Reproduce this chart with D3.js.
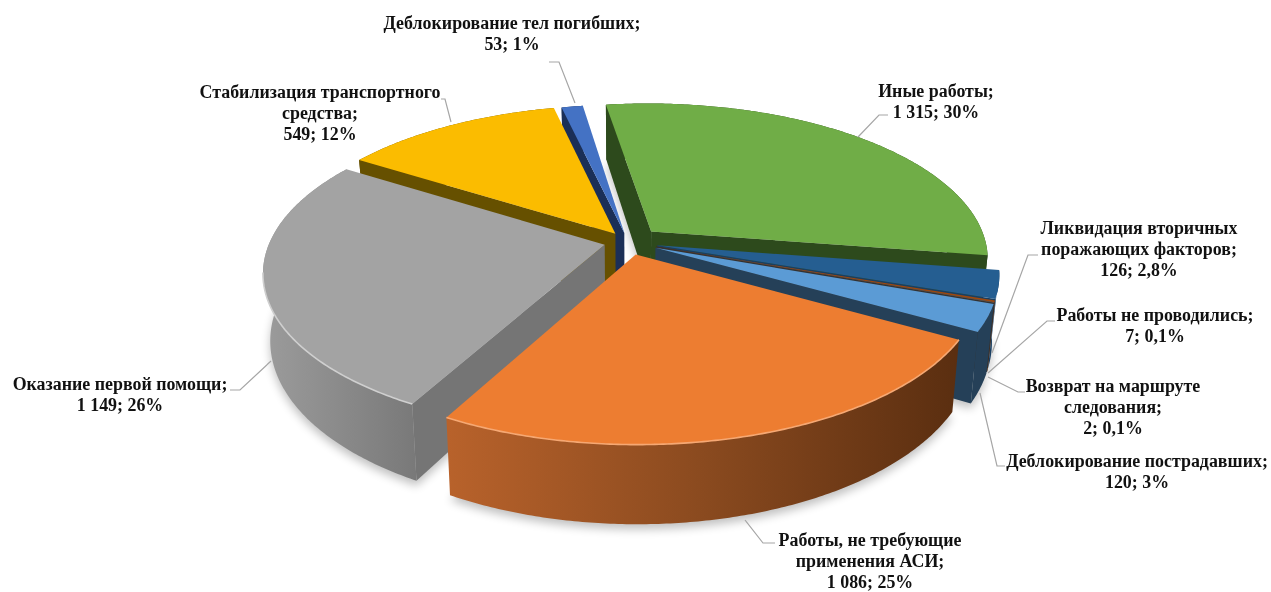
<!DOCTYPE html>
<html>
<head>
<meta charset="utf-8">
<script src="https://d3js.org/d3.v7.min.js"></script>
<style>
  html, body { margin: 0; padding: 0; background: #fff; }
  svg { display: block; }
  text { font-family: "Liberation Serif", serif; font-weight: bold; font-size: 17.9px; fill: #111; }
</style>
</head>
<body>
<script>
// chart data, clockwise from the green slice
const categories = [
    ["Иные работы;"],
    ["Ликвидация вторичных", "поражающих факторов;"],
    ["Работы не проводились;"],
    ["Возврат на маршруте", "следования;"],
    ["Деблокирование пострадавших;"],
    ["Работы, не требующие", "применения АСИ;"],
    ["Оказание первой помощи;"],
    ["Стабилизация транспортного", "средства;"],
    ["Деблокирование тел погибших;"]
];
const values = [1315, 126, 7, 2, 120, 1086, 1149, 549, 53];
const valueLabels = ["1 315", "126", "7", "2", "120", "1 086", "1 149", "549", "53"];
const percentLabels = ["30%", "2,8%", "0,1%", "0,1%", "3%", "25%", "26%", "12%", "1%"];

// styling per slice
const topColors  = ["#70AD47", "#255E91", "#9E480E", "#636363", "#5B9BD5", "#ED7D31", "#A3A3A3", "#FBBC00", "#4472C4"];
const wallColors = ["#2D4A1C", "#1A3F62", "#5A2A08", "#333333", "#254058", "#5E3112", "#757575", "#665000", "#1B2F57"];
const explode    = [33, 30, 30, 30, 30, 28, 24, 22, 20];
const drawOrder  = [0, 8, 7, 1, 2, 3, 4, 6, 5];

// where each label and leader goes on the page
const labelCenter = [[936, 97], [1139, 234], [1155, 321], [1113, 392], [1137, 467], [870, 546], [120, 390], [320, 98], [512, 29]];
const lineHeight = 21;
const leaders = [
    [[888, 115], [879, 115], [858, 137]],
    [[1038, 255], [1028, 255], [992, 353]],
    [[1055, 321], [1047, 321], [988, 373]],
    [[1025, 392], [1018, 392], [988, 377]],
    [[1005, 466], [997, 466], [980, 393]],
    [[775, 543], [763, 543], [745, 520]],
    [[230, 390], [240, 390], [271, 361]],
    [[441, 99], [445, 99], [451, 122]],
    [[549, 62], [559, 62], [575, 103]]
];

const width = 1271, height = 592;
const cx = 628, cy = 242;
const R = 335, tilt = 0.457, camera = R / 0.17, depth = 65;
const startAngle = -8.5 * Math.PI / 180;

// ground plane -> screen, z is how far below the top surface
function project(X, Y, z) {
    let f = 1 / (1 - Y / camera);
    let shrink = 1 - 0.02 * z / depth;
    return [cx + f * X * shrink, cy + tilt * f * Y + f * z];
}

const svg = d3.select("body").append("svg")
    .attr("width", width)
    .attr("height", height);

const defs = svg.append("defs");
defs.append("filter").attr("id", "soft")
    .attr("x", "-10%").attr("y", "-10%").attr("width", "120%").attr("height", "120%")
    .append("feGaussianBlur").attr("stdDeviation", 5);
defs.append("filter").attr("id", "rim")
    .append("feGaussianBlur").attr("stdDeviation", 0.7);

function wallGradient(id, x1, x2, stops) {
    let g = defs.append("linearGradient").attr("id", id)
        .attr("gradientUnits", "userSpaceOnUse")
        .attr("x1", x1).attr("x2", x2).attr("y1", 0).attr("y2", 0);
    stops.forEach((c, i) => g.append("stop").attr("offset", i / (stops.length - 1)).attr("stop-color", c));
}
wallGradient("wall5", 448, 960, ["#B8622B", "#8A4A1F", "#5A2E10"]);
wallGradient("wall6", 262, 420, ["#9C9C9C", "#8A8A8A", "#787878"]);

const pie = d3.pie().sort(null).startAngle(startAngle).endAngle(startAngle + 2 * Math.PI);
const slices = pie(values);
const lineGen = d3.line();

function ringPoints(s, z) {
    let mid = (s.startAngle + s.endAngle) / 2;
    let e = explode[s.index];
    let ox = e * Math.sin(mid), oy = -e * Math.cos(mid);
    let n = Math.max(2, Math.ceil((s.endAngle - s.startAngle) / 0.01));
    return d3.range(n + 1).map(i => {
        let a = s.startAngle + (s.endAngle - s.startAngle) * i / n;
        return project(ox + R * Math.sin(a), oy - R * Math.cos(a), z);
    });
}

function apexPoint(s, z) {
    let mid = (s.startAngle + s.endAngle) / 2;
    let e = explode[s.index];
    return project(e * Math.sin(mid), -e * Math.cos(mid), z);
}

// positive when the wall turns its face to the viewer
function area(pts) {
    return d3.polygonArea(pts);
}

const shadowLayer = svg.append("g").attr("filter", "url(#soft)").attr("opacity", 0.25);
const sliceLayer = svg.append("g");

drawOrder.forEach(i => {
    let s = slices[i];
    let top = ringPoints(s, 0);
    let bottom = ringPoints(s, depth);
    let apexTop = apexPoint(s, 0);
    let apexBottom = apexPoint(s, depth);
    let outer = top.concat(bottom.slice().reverse());

    shadowLayer.append("path")
        .attr("d", lineGen(bottom.concat([apexBottom])) + "Z")
        .attr("transform", "translate(0,5)")
        .attr("fill", "#000");

    let g = sliceLayer.append("g");

    g.append("path")
        .attr("d", lineGen(outer) + "Z")
        .attr("fill", i === 5 ? "url(#wall5)" : i === 6 ? "url(#wall6)" : wallColors[i]);

    let startWall = [apexTop, top[0], bottom[0], apexBottom];
    let endWall = [top[top.length - 1], apexTop, apexBottom, bottom[bottom.length - 1]];
    [startWall, endWall].forEach(w => {
        if (area(w) > 0) {
            g.append("path").attr("d", lineGen(w) + "Z").attr("fill", wallColors[i]);
        }
    });

    g.append("path")
        .attr("d", lineGen(top.concat([apexTop])) + "Z")
        .attr("fill", topColors[i]);

    // light bevel on the near part of the rim
    if (i === 5 || i === 6) {
        g.append("path")
            .attr("d", lineGen(top.filter(p => p[1] > cy + 30)))
            .attr("fill", "none")
            .attr("stroke", i === 5 ? "#F6A873" : "#CFCFCF")
            .attr("stroke-width", 1.6)
            .attr("filter", "url(#rim)");
    }
});

svg.append("g").selectAll("path")
    .data(leaders)
    .enter()
    .append("path")
    .attr("d", d => lineGen(d))
    .attr("fill", "none")
    .attr("stroke", "#A6A6A6")
    .attr("stroke-width", 1.2);

const labels = svg.append("g").selectAll("text")
    .data(categories)
    .enter()
    .append("text")
    .attr("text-anchor", "middle");

labels.each(function (d, i) {
    let lines = d.concat([valueLabels[i] + "; " + percentLabels[i]]);
    lines.forEach((t, j) => {
        d3.select(this).append("tspan")
            .attr("x", labelCenter[i][0])
            .attr("y", labelCenter[i][1] + j * lineHeight)
            .text(t);
    });
});
</script>
</body>
</html>
